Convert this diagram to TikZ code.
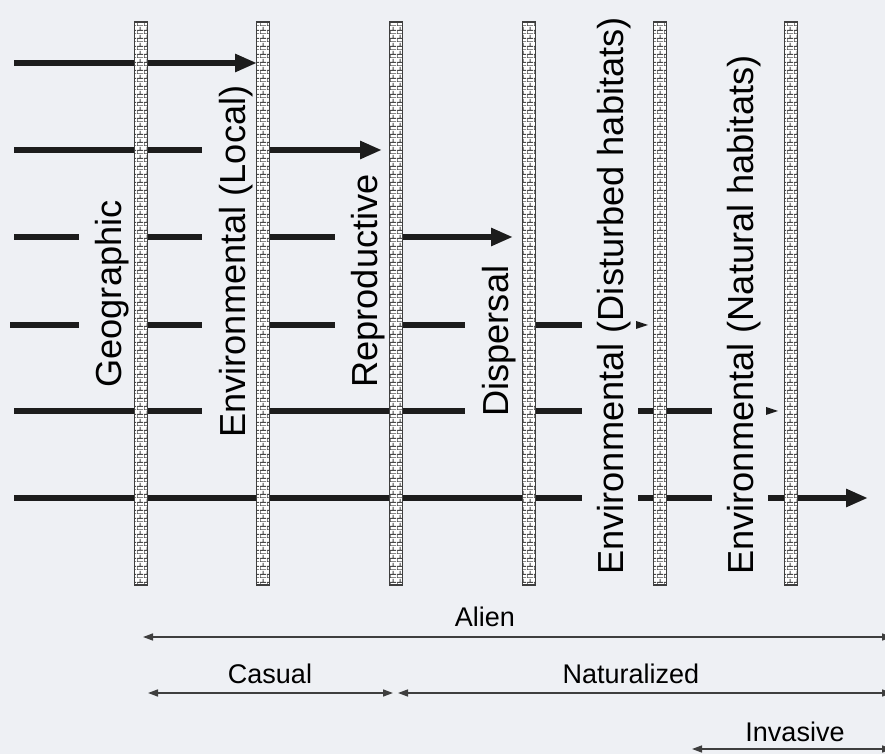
\documentclass[tikz,border=0pt]{standalone}
\usepackage{fontspec}
\setmainfont{Liberation Sans}
\usepackage{xcolor}
\usetikzlibrary{patterns, patterns.meta, positioning, arrows.meta}
\definecolor{page-grey}{RGB}{238,240,244}
\definecolor{ink}{RGB}{28,28,28}
\tikzdeclarepattern{
	name=smallbricks,
	type=uncolored,
	bounding box={(0pt,0pt) and (3.25pt,4pt)},
	tile size={(3.25pt,4pt)},
	code={
		\draw[line width=0.6pt] (0pt,0pt) -- (3.25pt,0pt) (0pt,2pt) -- (3.25pt,2pt) (0pt,0pt) -- (0pt,2pt) (1.625pt,2pt) -- (1.625pt,4pt);
	}
}
\begin{document}
\begin{tikzpicture}[x=0.5pt, y=-0.5pt]
				\tikzset{barrier/.style={rectangle, draw=ink!85, line width=0.6pt, preaction={fill=white}, pattern=smallbricks, pattern color=ink!80, minimum width=6.5pt, minimum height=281.5pt, inner sep=0}}
				\tikzset{lab/.style={rotate=90, anchor=base west, inner sep=0, font=\fontsize{18.1}{20}\selectfont}}
				\tikzset{foot/.style={anchor=base, inner sep=0, font=\fontsize{13.5}{15}\selectfont}}
				\tikzset{row/.style={ink, line width=2.75pt}}
				\tikzset{rowarr/.style={row, -{Triangle[length=11pt, width=8.5pt]}}}
				\tikzset{span/.style={ink!85, line width=0.75pt, {Triangle[length=5pt, width=3.5pt]}-{Triangle[length=5pt, width=3.5pt]}}}
				\useasboundingbox (0,0) rectangle (885,754);
				\fill[page-grey] (0,0) rectangle (885,754);
				\draw[rowarr] (14,63) -- (257,63);
				\draw[row] (14,150) -- (202,150);
				\draw[rowarr] (270,150) -- (382,150);
				\draw[row] (14,237) -- (79,237) (148,237) -- (202,237) (270,237) -- (335,237);
				\draw[rowarr] (403,237) -- (513,237);
				\draw[row] (10,325) -- (79,325) (148,325) -- (202,325) (270,325) -- (335,325) (403,325) -- (465,325) (536,325) -- (582,325);
				\fill[ink] (636,321) -- (648,325) -- (636,329) -- cycle;
				\draw[row] (14,411) -- (202,411) (270,411) -- (465,411) (536,411) -- (582,411) (638,411) -- (712,411);
				\fill[ink] (766,407) -- (778,411) -- (766,415) -- cycle;
				\draw[row] (14,498) -- (582,498) (638,498) -- (712,498);
				\draw[rowarr] (768,498) -- (868,498);
				\node[barrier] (geo) at (141,303.5) {};
				\node[barrier] (local) at (263,303.5) {};
				\node[barrier] (repro) at (396,303.5) {};
				\node[barrier] (disp) at (529,303.5) {};
				\node[barrier] (disturbed) at (660,303.5) {};
				\node[barrier] (natural) at (791,303.5) {};
				\node[lab] (geo label) at (121,388) {Geographic};
				\node[lab] (local label) at (245,438) {Environmental (Local)};
				\node[lab] (repro label) at (377,388) {Reproductive};
				\node[lab] (disp label) at (508,417) {Dispersal};
				\node[lab] (disturbed label) at (623,575) {Environmental (Disturbed habitats)};
				\node[lab] (natural label) at (753,575) {Environmental (Natural habitats)};
				\coordinate (alien l) at (143,637);
				\coordinate (alien r) at (892,637);
				\coordinate (casual l) at (148,693);
				\coordinate (casual r) at (393,693);
				\coordinate (nat l) at (398,693);
				\coordinate (nat r) at (892,693);
				\coordinate (inv l) at (692,749);
				\coordinate (inv r) at (892,749);
				\draw[span] (alien l) -- (alien r);
				\draw[span] (casual l) -- (casual r);
				\draw[span] (nat l) -- (nat r);
				\draw[span] (inv l) -- (inv r);
				\node[foot] (alien) at (485,627) {Alien};
				\node[foot] (casual) at (270,683) {Casual};
				\node[foot] (naturalized) at (631,683) {Naturalized};
				\node[foot] (invasive) at (795,741) {Invasive};
			\end{tikzpicture}
\end{document}
